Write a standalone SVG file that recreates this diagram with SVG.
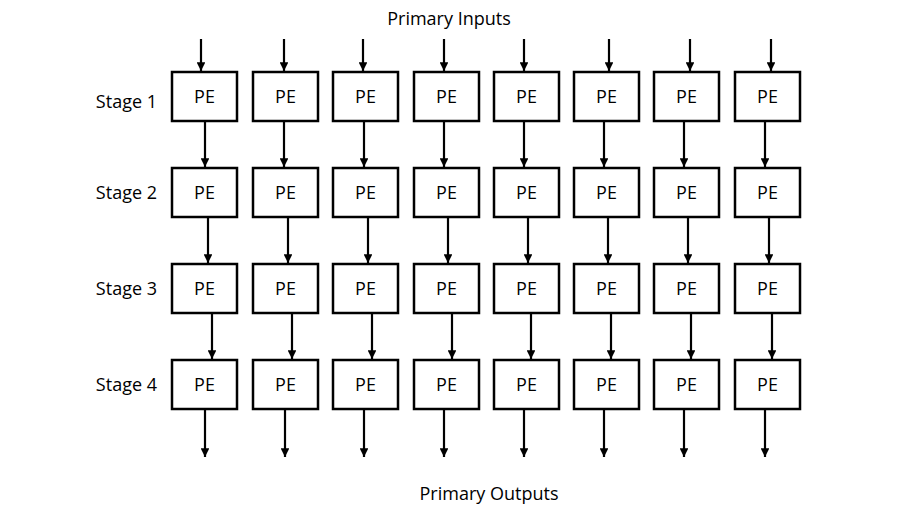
<svg xmlns="http://www.w3.org/2000/svg" width="923" height="512" viewBox="0 0 923 512">
<style>
.b{fill:#fff;stroke:#000;stroke-width:2.5}
.t{font-family:"Open Sans","Liberation Sans",sans-serif;font-size:18px;fill:#000}
.c line{stroke:#000;stroke-width:2.2;marker-end:url(#a)}
</style>
<defs><marker id="a" viewBox="0 0 10 10" refX="10" refY="5" markerWidth="4" markerHeight="4" orient="auto" markerUnits="strokeWidth"><path d="M0,0L10,5L0,10z"/></marker></defs>
<rect width="923" height="512" fill="#fff"/>
<text class="t" x="449" y="25" text-anchor="middle">Primary Inputs</text>
<text class="t" x="489" y="500" text-anchor="middle">Primary Outputs</text>
<g id="labels">
<text class="t" x="157" y="108" text-anchor="end">Stage 1</text>
<text class="t" x="157" y="199" text-anchor="end">Stage 2</text>
<text class="t" x="157" y="295" text-anchor="end">Stage 3</text>
<text class="t" x="157" y="391" text-anchor="end">Stage 4</text>
</g>
<g class="c" id="connectors">
<line x1="201" y1="39" x2="201" y2="71"/><line x1="284" y1="39" x2="284" y2="71"/><line x1="363" y1="39" x2="363" y2="71"/><line x1="444" y1="39" x2="444" y2="71"/><line x1="524" y1="39" x2="524" y2="71"/><line x1="609" y1="39" x2="609" y2="71"/><line x1="690" y1="39" x2="690" y2="71"/><line x1="771" y1="39" x2="771" y2="71"/>
<line x1="205" y1="121" x2="205" y2="167"/><line x1="284" y1="121" x2="284" y2="167"/><line x1="364" y1="121" x2="364" y2="167"/><line x1="444" y1="121" x2="444" y2="167"/><line x1="524" y1="121" x2="524" y2="167"/><line x1="604" y1="121" x2="604" y2="167"/><line x1="684" y1="121" x2="684" y2="167"/><line x1="765" y1="121" x2="765" y2="167"/>
<line x1="208" y1="217" x2="208" y2="263"/><line x1="288" y1="217" x2="288" y2="263"/><line x1="368" y1="217" x2="368" y2="263"/><line x1="448" y1="217" x2="448" y2="263"/><line x1="528" y1="217" x2="528" y2="263"/><line x1="608" y1="217" x2="608" y2="263"/><line x1="688" y1="217" x2="688" y2="263"/><line x1="769" y1="217" x2="769" y2="263"/>
<line x1="212" y1="313" x2="212" y2="359"/><line x1="292" y1="313" x2="292" y2="359"/><line x1="372" y1="313" x2="372" y2="359"/><line x1="452" y1="313" x2="452" y2="359"/><line x1="531" y1="313" x2="531" y2="359"/><line x1="611" y1="313" x2="611" y2="359"/><line x1="691" y1="313" x2="691" y2="359"/><line x1="772" y1="313" x2="772" y2="359"/>
<line x1="205" y1="409" x2="205" y2="457"/><line x1="285" y1="409" x2="285" y2="457"/><line x1="364" y1="409" x2="364" y2="457"/><line x1="444" y1="409" x2="444" y2="457"/><line x1="524" y1="409" x2="524" y2="457"/><line x1="604" y1="409" x2="604" y2="457"/><line x1="684" y1="409" x2="684" y2="457"/><line x1="765" y1="409" x2="765" y2="457"/>
</g>
<g id="nodes">
<g id="pe11"><rect class="b" x="172" y="72" width="65" height="49"/><text class="t" x="204.5" y="103" text-anchor="middle">PE</text></g>
<g id="pe12"><rect class="b" x="253" y="72" width="65" height="49"/><text class="t" x="285.5" y="103" text-anchor="middle">PE</text></g>
<g id="pe13"><rect class="b" x="333" y="72" width="65" height="49"/><text class="t" x="365.5" y="103" text-anchor="middle">PE</text></g>
<g id="pe14"><rect class="b" x="414" y="72" width="65" height="49"/><text class="t" x="446.5" y="103" text-anchor="middle">PE</text></g>
<g id="pe15"><rect class="b" x="494" y="72" width="65" height="49"/><text class="t" x="526.5" y="103" text-anchor="middle">PE</text></g>
<g id="pe16"><rect class="b" x="574" y="72" width="65" height="49"/><text class="t" x="606.5" y="103" text-anchor="middle">PE</text></g>
<g id="pe17"><rect class="b" x="654" y="72" width="65" height="49"/><text class="t" x="686.5" y="103" text-anchor="middle">PE</text></g>
<g id="pe18"><rect class="b" x="735" y="72" width="65" height="49"/><text class="t" x="767.5" y="103" text-anchor="middle">PE</text></g>
<g id="pe21"><rect class="b" x="172" y="168" width="65" height="49"/><text class="t" x="204.5" y="199" text-anchor="middle">PE</text></g>
<g id="pe22"><rect class="b" x="253" y="168" width="65" height="49"/><text class="t" x="285.5" y="199" text-anchor="middle">PE</text></g>
<g id="pe23"><rect class="b" x="333" y="168" width="65" height="49"/><text class="t" x="365.5" y="199" text-anchor="middle">PE</text></g>
<g id="pe24"><rect class="b" x="414" y="168" width="65" height="49"/><text class="t" x="446.5" y="199" text-anchor="middle">PE</text></g>
<g id="pe25"><rect class="b" x="494" y="168" width="65" height="49"/><text class="t" x="526.5" y="199" text-anchor="middle">PE</text></g>
<g id="pe26"><rect class="b" x="574" y="168" width="65" height="49"/><text class="t" x="606.5" y="199" text-anchor="middle">PE</text></g>
<g id="pe27"><rect class="b" x="654" y="168" width="65" height="49"/><text class="t" x="686.5" y="199" text-anchor="middle">PE</text></g>
<g id="pe28"><rect class="b" x="735" y="168" width="65" height="49"/><text class="t" x="767.5" y="199" text-anchor="middle">PE</text></g>
<g id="pe31"><rect class="b" x="172" y="264" width="65" height="49"/><text class="t" x="204.5" y="295" text-anchor="middle">PE</text></g>
<g id="pe32"><rect class="b" x="253" y="264" width="65" height="49"/><text class="t" x="285.5" y="295" text-anchor="middle">PE</text></g>
<g id="pe33"><rect class="b" x="333" y="264" width="65" height="49"/><text class="t" x="365.5" y="295" text-anchor="middle">PE</text></g>
<g id="pe34"><rect class="b" x="414" y="264" width="65" height="49"/><text class="t" x="446.5" y="295" text-anchor="middle">PE</text></g>
<g id="pe35"><rect class="b" x="494" y="264" width="65" height="49"/><text class="t" x="526.5" y="295" text-anchor="middle">PE</text></g>
<g id="pe36"><rect class="b" x="574" y="264" width="65" height="49"/><text class="t" x="606.5" y="295" text-anchor="middle">PE</text></g>
<g id="pe37"><rect class="b" x="654" y="264" width="65" height="49"/><text class="t" x="686.5" y="295" text-anchor="middle">PE</text></g>
<g id="pe38"><rect class="b" x="735" y="264" width="65" height="49"/><text class="t" x="767.5" y="295" text-anchor="middle">PE</text></g>
<g id="pe41"><rect class="b" x="172" y="360" width="65" height="49"/><text class="t" x="204.5" y="391" text-anchor="middle">PE</text></g>
<g id="pe42"><rect class="b" x="253" y="360" width="65" height="49"/><text class="t" x="285.5" y="391" text-anchor="middle">PE</text></g>
<g id="pe43"><rect class="b" x="333" y="360" width="65" height="49"/><text class="t" x="365.5" y="391" text-anchor="middle">PE</text></g>
<g id="pe44"><rect class="b" x="414" y="360" width="65" height="49"/><text class="t" x="446.5" y="391" text-anchor="middle">PE</text></g>
<g id="pe45"><rect class="b" x="494" y="360" width="65" height="49"/><text class="t" x="526.5" y="391" text-anchor="middle">PE</text></g>
<g id="pe46"><rect class="b" x="574" y="360" width="65" height="49"/><text class="t" x="606.5" y="391" text-anchor="middle">PE</text></g>
<g id="pe47"><rect class="b" x="654" y="360" width="65" height="49"/><text class="t" x="686.5" y="391" text-anchor="middle">PE</text></g>
<g id="pe48"><rect class="b" x="735" y="360" width="65" height="49"/><text class="t" x="767.5" y="391" text-anchor="middle">PE</text></g>
</g>
</svg>
